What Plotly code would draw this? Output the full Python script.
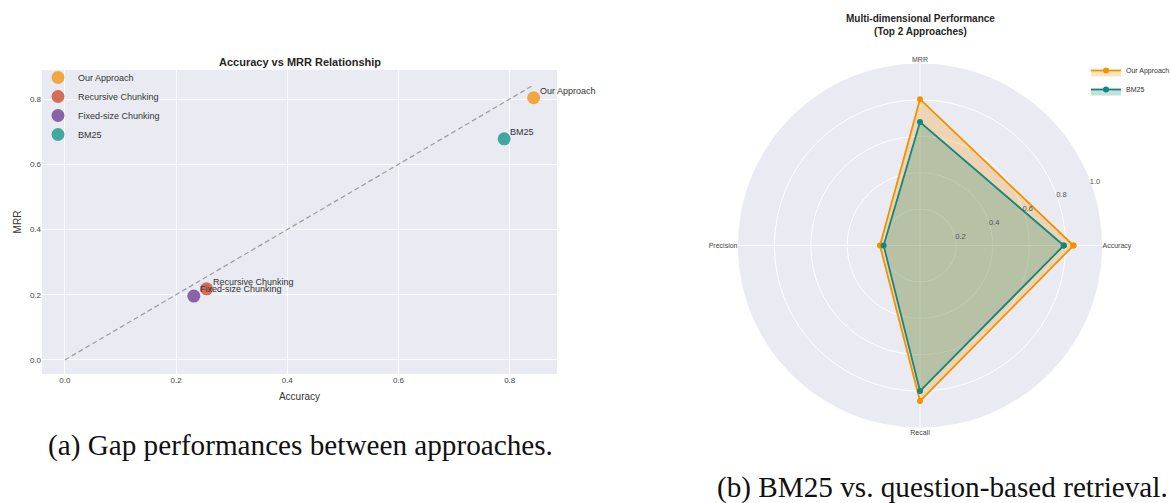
import plotly.graph_objects as go

# ---- data ----
approaches = ["Our Approach", "Recursive Chunking", "Fixed-size Chunking", "BM25"]
accuracy = [0.843, 0.255, 0.232, 0.790]
mrr = [0.804, 0.218, 0.196, 0.678]
scatter_colors = ["#F0A742", "#D56E57", "#8A62A8", "#43A6A0"]

radar_metrics = ["Accuracy", "MRR", "Precision", "Recall"]
radar_names = ["Our Approach", "BM25"]
radar_values = {
    "Our Approach": [0.843, 0.804, 0.22, 0.855],
    "BM25": [0.790, 0.678, 0.20, 0.800],
}
radar_line_colors = ["#F39200", "#12877A"]
radar_fill_colors = ["rgba(243,146,0,0.25)", "rgba(18,135,122,0.25)"]
radial_ticks = [0.2, 0.4, 0.6, 0.8, 1.0]
axis_ticks = [0.0, 0.2, 0.4, 0.6, 0.8]

W, H = 1171, 503
BG = "#EAEAF2"
FONT = "Liberation Sans, Arial, sans-serif"
SERIF = "Liberation Serif, Times New Roman, serif"

fig = go.Figure()

# ---- scatter ----
for name, a, m, c in zip(approaches, accuracy, mrr, scatter_colors):
    fig.add_trace(go.Scatter(
        x=[a], y=[m], mode="markers", name=name,
        marker=dict(size=13, color=c, line=dict(width=0)),
        legend="legend", xaxis="x", yaxis="y", showlegend=True,
    ))
lim = max(max(accuracy), max(mrr))
fig.add_trace(go.Scatter(
    x=[0, lim], y=[0, lim], mode="lines", showlegend=False,
    line=dict(color="#A0A0A0", width=1.3, dash="5px,3px"), xaxis="x", yaxis="y",
))
for name, a, m in zip(approaches, accuracy, mrr):
    fig.add_annotation(x=a, y=m, xref="x", yref="y", text=name, showarrow=False,
                       xanchor="left", yanchor="middle", xshift=4, yshift=7,
                       font=dict(size=9, color="#333333", family=FONT))

# ---- radar ----
for name, lc, fc in zip(radar_names, radar_line_colors, radar_fill_colors):
    vals = radar_values[name]
    fig.add_trace(go.Scatterpolar(
        r=vals + vals[:1], theta=radar_metrics + radar_metrics[:1],
        mode="lines+markers", name=name, fill="toself", fillcolor=fc,
        line=dict(color=lc, width=1.8), marker=dict(size=6, color=lc),
        subplot="polar", legend="legend2",
    ))

px = lambda v: v / W
py = lambda v: 1 - v / H

fig.update_layout(
    width=W, height=H, margin=dict(l=0, r=0, t=0, b=0, autoexpand=False),
    paper_bgcolor="white", plot_bgcolor=BG,
    font=dict(family=FONT, color="#333333"),
    xaxis=dict(domain=[px(42), px(557)], range=[-0.041, 0.885],
               tickvals=axis_ticks, ticktext=[f"{v:.1f}" for v in axis_ticks],
               showgrid=True, gridcolor="rgba(255,255,255,0.85)", gridwidth=1,
               zeroline=False, showline=False, ticks="",
               tickfont=dict(size=8, color="#444444"),
               title=dict(text="Accuracy", font=dict(size=10, color="#333333"), standoff=8),
               anchor="y", automargin=False),
    yaxis=dict(domain=[py(374), py(70)], range=[-0.043, 0.889],
               tickvals=axis_ticks, ticktext=[f"{v:.1f}" for v in axis_ticks],
               showgrid=True, gridcolor="rgba(255,255,255,0.85)", gridwidth=1,
               zeroline=False, showline=False, ticks="",
               tickfont=dict(size=8, color="#444444"),
               title=dict(text="MRR", font=dict(size=10, color="#333333"), standoff=6),
               anchor="x", automargin=False),
    legend=dict(x=px(38), y=py(63), xanchor="left", yanchor="top",
                bgcolor="rgba(0,0,0,0)", font=dict(size=9, color="#333333"),
                itemsizing="trace", tracegroupgap=0),
    legend2=dict(x=px(1086), y=py(56), xanchor="left", yanchor="top",
                 bgcolor="rgba(0,0,0,0)", font=dict(size=7, color="#333333"),
                 itemwidth=30),
    polar=dict(
        domain=dict(x=[px(738), px(1102)], y=[py(427.5), py(63.5)]),
        bgcolor=BG,
        radialaxis=dict(range=[0, 1], tickvals=radial_ticks,
                        ticktext=[f"{v:.1f}" for v in radial_ticks],
                        angle=22.5, tickangle=22.5, side="clockwise",
                        showline=False, ticks="",
                        gridcolor="white", gridwidth=1,
                        tickfont=dict(size=7.5, color="#555555")),
        angularaxis=dict(direction="counterclockwise", rotation=0,
                         categoryorder="array", categoryarray=radar_metrics,
                         showline=False, ticks="", gridcolor="white", gridwidth=1,
                         tickfont=dict(size=7, color="#444444")),
    ),
)

# titles
fig.add_annotation(x=px(300), y=py(62), xref="paper", yref="paper",
                   text="<b>Accuracy vs MRR Relationship</b>", showarrow=False,
                   xanchor="center", yanchor="middle",
                   font=dict(size=11, color="#262626", family=FONT))
fig.add_annotation(x=px(920), y=py(24.5), xref="paper", yref="paper",
                   text="<b>Multi-dimensional Performance<br>(Top 2 Approaches)</b>",
                   showarrow=False, xanchor="center", yanchor="middle",
                   font=dict(size=10, color="#262626", family=FONT))
# captions
fig.add_annotation(x=px(300.5), y=py(445), xref="paper", yref="paper",
                   text="(a) Gap performances between approaches.", showarrow=False,
                   xanchor="center", yanchor="middle",
                   font=dict(size=29.2, color="#111111", family=SERIF))
fig.add_annotation(x=px(942.5), y=py(487), xref="paper", yref="paper",
                   text="(b) BM25 vs. question-based retrieval.", showarrow=False,
                   xanchor="center", yanchor="middle",
                   font=dict(size=29.2, color="#111111", family=SERIF))

fig.write_html("out.html", config={"displayModeBar": False},
               post_script="document.body.style.margin='0px';document.body.style.overflow='hidden';")
